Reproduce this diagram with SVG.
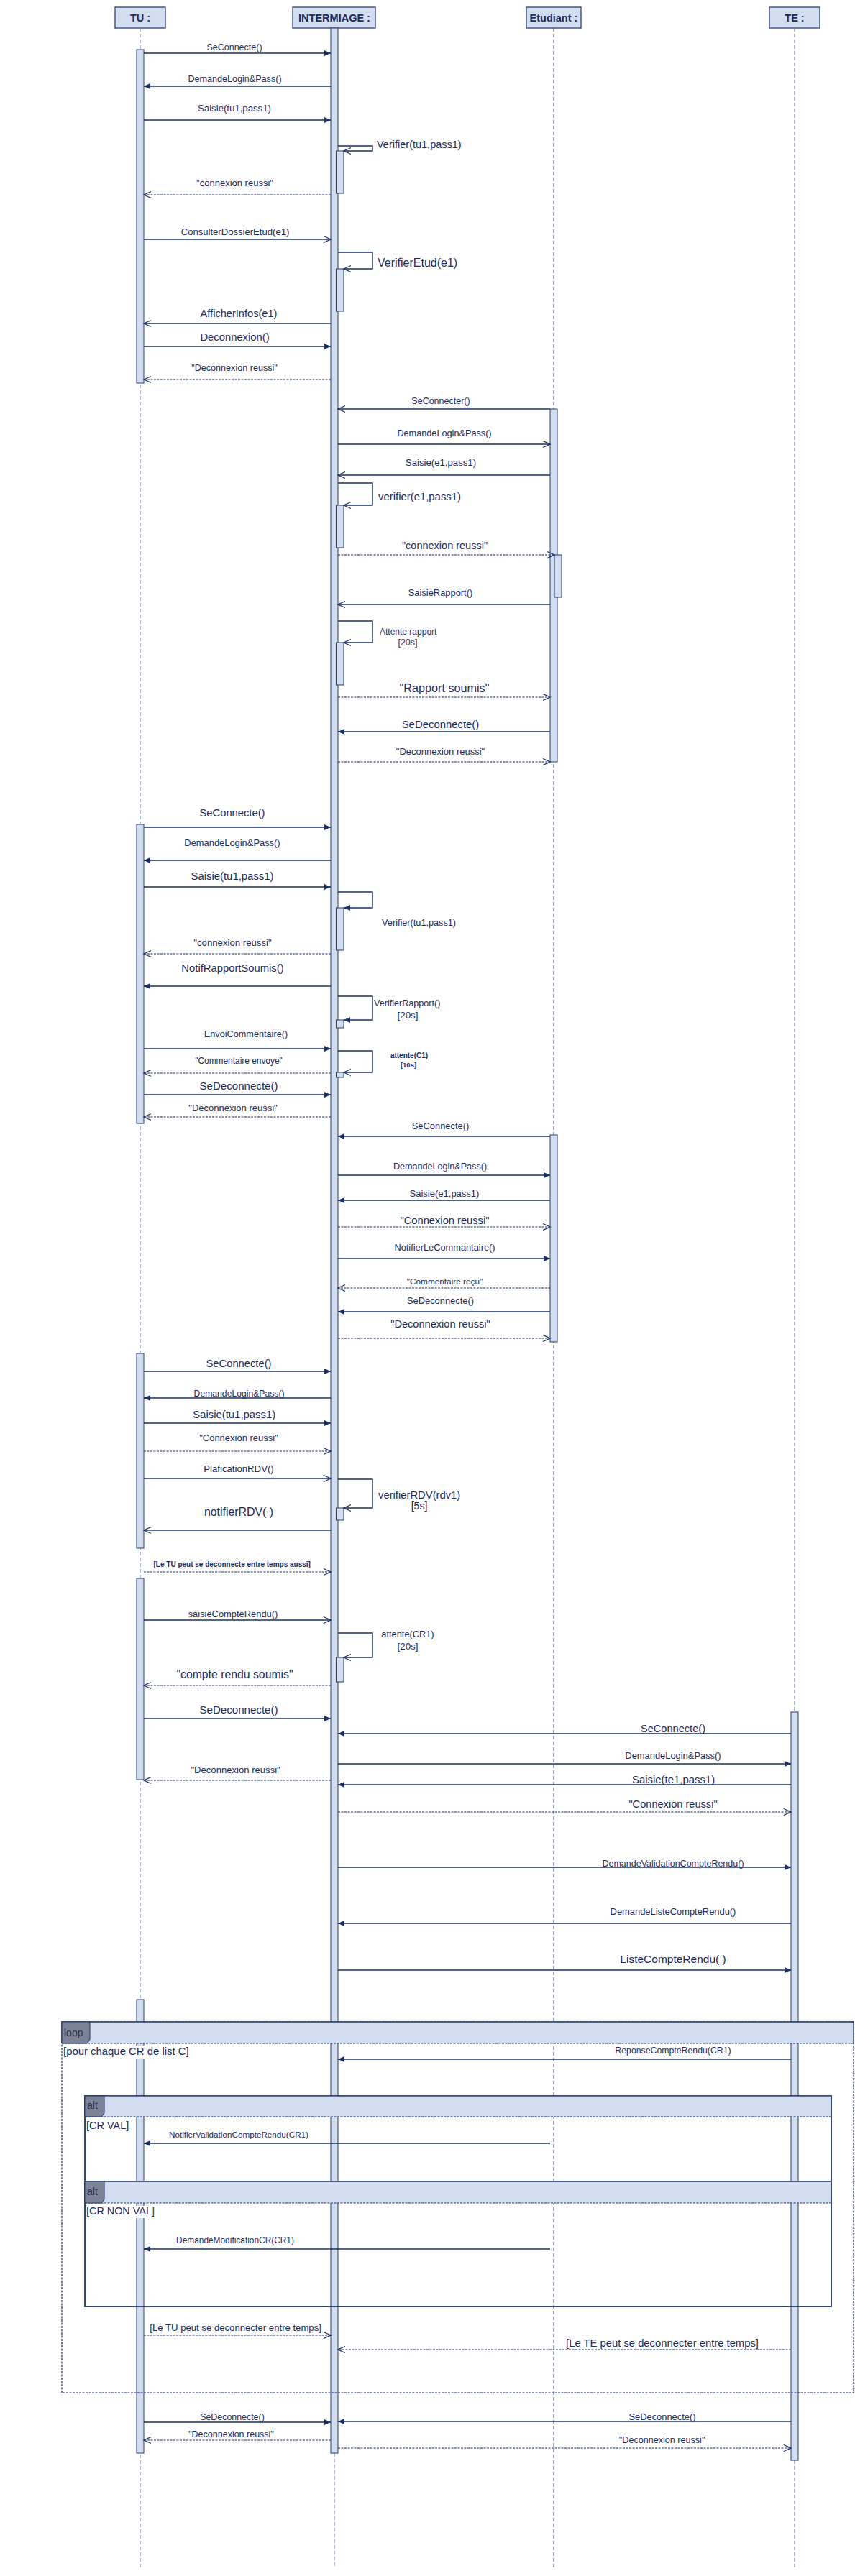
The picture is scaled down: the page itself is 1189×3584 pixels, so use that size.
<svg xmlns="http://www.w3.org/2000/svg" width="1189" height="3584" viewBox="0 0 1189 3584">
<style>
text{font-family:"Liberation Sans",Arial,sans-serif;fill:#1b2b5c;text-anchor:middle;font-size:13px}
.l{text-anchor:start}
.h{font-weight:bold;font-size:14.5px}
.b{font-weight:bold}
.hd{fill:#d3ddf0;stroke:#2b4274;stroke-width:1.3}
.ll{stroke:#5d78ae;stroke-width:1;stroke-dasharray:5 3;fill:none}
.lle{stroke:#3c5083;stroke-width:1;stroke-dasharray:5 3;fill:none}
.act{fill:#d3ddf0;stroke:#263d70;stroke-width:1}
.m{stroke:#1a3062;stroke-width:1.4;fill:none}
.d{stroke:#1a3062;stroke-width:1.2;fill:none;stroke-dasharray:3 1.5}
.f{marker-end:url(#fa)}
.o{marker-end:url(#oa)}
.band{fill:#d3ddf0;stroke:none}
.bs{fill:none;stroke:#1f3566;stroke-width:1.3}
.bd{fill:none;stroke:#1f3566;stroke-width:1.2;stroke-dasharray:3 1.5}
.tag{fill:#7d8397;stroke:#1f3566;stroke-width:1}
.wb{fill:#ffffff}
</style>
<defs>
<marker id="fa" viewBox="0 0 10 10" refX="10" refY="5" markerWidth="9" markerHeight="9" markerUnits="userSpaceOnUse" orient="auto" overflow="visible"><path d="M0,0.5 L10,5 L0,9.5 z" fill="#1a3062"/></marker>
<marker id="oa" viewBox="0 0 10 10" refX="10" refY="5" markerWidth="10" markerHeight="10" markerUnits="userSpaceOnUse" orient="auto" overflow="visible"><path d="M0,0.5 L10,5 L0,9.5" fill="none" stroke="#1a3062" stroke-width="1.3"/></marker>
</defs>
<rect x="0" y="0" width="1189" height="3584" fill="#ffffff"/>

<g id="TU">
<rect class="hd" x="160" y="10" width="70" height="29"/>
<text class="h" x="195" y="30">TU :</text>
<path class="ll" d="M195,39V3573"/>
<rect class="act" x="190" y="69" width="10" height="464"/>
<rect class="act" x="190" y="1147" width="10" height="416"/>
<rect class="act" x="190" y="1883" width="10" height="271"/>
<rect class="act" x="190" y="2196" width="10" height="280"/>
<rect class="act" x="190" y="2782" width="10" height="631"/>
</g>

<g id="INTERMIAGE">
<rect class="hd" x="407" y="10" width="115" height="29"/>
<text class="h" x="465" y="30">INTERMIAGE :</text>
<path class="ll" d="M465,3413V3573"/>
<rect class="act" x="460" y="39" width="10" height="3374"/>
<rect class="act" x="467.5" y="210" width="10.5" height="59"/>
<rect class="act" x="467.5" y="374" width="10.5" height="59"/>
<rect class="act" x="467.5" y="703" width="10.5" height="59"/>
<rect class="act" x="467.5" y="894" width="10.5" height="59"/>
<rect class="act" x="467.5" y="1263" width="10.5" height="59"/>
<rect class="act" x="467.5" y="1419" width="10.5" height="11"/>
<rect class="act" x="467.5" y="1492" width="10.5" height="7"/>
<rect class="act" x="467.5" y="2098" width="10.5" height="17"/>
<rect class="act" x="467.5" y="2306" width="10.5" height="34"/>
</g>

<g id="Etudiant">
<rect class="hd" x="732" y="10" width="76" height="29"/>
<text class="h" x="770" y="30">Etudiant :</text>
<path class="lle" d="M770,39V3573"/>
<rect class="act" x="765" y="569" width="10" height="491"/>
<rect class="act" x="771" y="772" width="10" height="59"/>
<rect class="act" x="765" y="1579" width="10" height="288"/>
</g>

<g id="TE">
<rect class="hd" x="1070" y="10" width="70" height="29"/>
<text class="h" x="1105" y="30">TE :</text>
<path class="ll" d="M1105,39V3573"/>
<rect class="act" x="1100" y="2382" width="10" height="1041"/>
</g>

<g id="frames">
<rect class="bd" x="86" y="2813" width="1101" height="516"/>
<rect class="band" x="86" y="2813" width="1101" height="30"/>
<path class="bs" d="M86,2843V2813H1187V2843"/>
<path class="bd" d="M86,2843H1187"/>
<path class="tag" d="M86,2813H125V2838L121,2843H86z"/>
<text class="l" x="89" y="2833" style="font-size:14px;fill:#2a3150">loop</text>
<rect class="wb" x="87" y="2846" width="176" height="18"/>
<text class="l" x="88" y="2859" style="font-size:14.9px">[pour chaque CR de list C]</text>

<rect class="bs" x="118" y="2916" width="1038" height="293" style="stroke-width:1.8"/>
<rect class="band" x="118.7" y="2916.7" width="1036.6" height="28.3"/>
<path class="bd" d="M118,2945H1156"/>
<path class="tag" d="M118,2916H145V2940L141,2945H118z"/>
<text class="l" x="121" y="2934" style="font-size:14px;fill:#2a3150">alt</text>
<rect class="wb" x="119" y="2950" width="62" height="17"/>
<text class="l" x="120" y="2962" style="font-size:14.5px">[CR VAL]</text>

<rect class="band" x="118.7" y="3035" width="1036.6" height="30"/>
<path class="bs" d="M118,3035H1156"/>
<path class="bd" d="M118,3065H1156"/>
<path class="tag" d="M118,3035H145V3060L141,3065H118z"/>
<text class="l" x="121" y="3054" style="font-size:14px;fill:#2a3150">alt</text>
<rect class="wb" x="119" y="3069" width="98" height="17"/>
<text class="l" x="120" y="3081" style="font-size:14.4px">[CR NON VAL]</text>
</g>

<g id="connectors">
<path class="m f" d="M200,74H460"/><text x="326" y="70" style="font-size:12.5px">SeConnecte()</text>
<path class="m f" d="M460,120H200"/><text x="326.5" y="114" style="font-size:12.6px">DemandeLogin&amp;Pass()</text>
<path class="m f" d="M200,167H460"/><text x="326" y="155" style="font-size:13.2px">Saisie(tu1,pass1)</text>
<path class="m o" d="M470,203H518V210H478"/><text class="l" x="524" y="206" style="font-size:14.5px">Verifier(tu1,pass1)</text>
<path class="d o" d="M460,271H200"/><text x="326.5" y="259" style="font-size:13px">"connexion reussi"</text>
<path class="m o" d="M200,333H460"/><text x="327" y="327" style="font-size:13.1px">ConsulterDossierEtud(e1)</text>
<path class="m o" d="M470,351H518V374H478"/><text class="l" x="525" y="371" style="font-size:16px">VerifierEtud(e1)</text>
<path class="m o" d="M460,450H200"/><text x="332" y="441" style="font-size:14.6px">AfficherInfos(e1)</text>
<path class="m f" d="M200,482H460"/><text x="326.5" y="474" style="font-size:14.8px">Deconnexion()</text>
<path class="d o" d="M460,528H200"/><text x="326" y="516" style="font-size:12.6px">"Deconnexion reussi"</text>
<path class="m o" d="M765,569H470"/><text x="613" y="562" style="font-size:12.5px">SeConnecter()</text>
<path class="m o" d="M470,618H765"/><text x="618" y="607" style="font-size:12.7px">DemandeLogin&amp;Pass()</text>
<path class="m o" d="M765,661H470"/><text x="613" y="648" style="font-size:13.2px">Saisie(e1,pass1)</text>
<path class="m o" d="M470,672H518V703H478"/><text class="l" x="526" y="696" style="font-size:14.9px">verifier(e1,pass1)</text>
<path class="d o" d="M470,772H771"/><text x="618.5" y="764" style="font-size:14.5px">"connexion reussi"</text>
<path class="m o" d="M765,841H470"/><text x="612.5" y="829" style="font-size:12.9px">SaisieRapport()</text>
<path class="m o" d="M470,864H518V894H478"/><text class="l" x="528" y="883" style="font-size:12px">Attente rapport</text><text x="567" y="898" style="font-size:12.5px">[20s]</text>
<path class="d o" d="M470,970H765"/><text x="618" y="963" style="font-size:16.2px">"Rapport soumis"</text>
<path class="m f" d="M765,1018H470"/><text x="612.5" y="1013" style="font-size:14.9px">SeDeconnecte()</text>
<path class="d o" d="M470,1060H765"/><text x="612.5" y="1050" style="font-size:13px">"Deconnexion reussi"</text>
<path class="m f" d="M200,1151H460"/><text x="323" y="1136" style="font-size:14.75px">SeConnecte()</text>
<path class="m f" d="M460,1197H200"/><text x="323" y="1177" style="font-size:12.9px">DemandeLogin&amp;Pass()</text>
<path class="m f" d="M200,1234H460"/><text x="323" y="1224" style="font-size:14.9px">Saisie(tu1,pass1)</text>
<path class="m f" d="M470,1241H518V1263H478"/><text x="582.6" y="1288" style="font-size:12.7px">Verifier(tu1,pass1)</text>
<path class="d o" d="M460,1327H200"/><text x="323.5" y="1316" style="font-size:13.2px">"connexion reussi"</text>
<path class="m f" d="M460,1372H200"/><text x="323.5" y="1352" style="font-size:14.8px">NotifRapportSoumis()</text>
<path class="m f" d="M470,1386H518V1419H478"/><text class="l" x="520" y="1400" style="font-size:12.6px">VerifierRapport()</text><text x="567" y="1417" style="font-size:13.4px">[20s]</text>
<path class="m f" d="M200,1459H460"/><text x="342" y="1443" style="font-size:12.7px">EnvoiCommentaire()</text>
<path class="m o" d="M470,1462H518V1492H478"/><text class="b" x="569" y="1472" style="font-size:10px">attente(C1)</text><text class="b" x="568" y="1485" style="font-size:9.5px">[10s]</text>
<path class="d o" d="M460,1493H200"/><text x="332" y="1480" style="font-size:11.9px">"Commentaire envoye"</text>
<path class="m f" d="M200,1523H460"/><text x="332" y="1516" style="font-size:15.1px">SeDeconnecte()</text>
<path class="d o" d="M460,1554H200"/><text x="324" y="1546" style="font-size:13px">"Deconnexion reussi"</text>
<path class="m f" d="M765,1581H470"/><text x="612.5" y="1571" style="font-size:12.9px">SeConnecte()</text>
<path class="m f" d="M470,1635H765"/><text x="612" y="1627" style="font-size:12.6px">DemandeLogin&amp;Pass()</text>
<path class="m f" d="M765,1670H470"/><text x="618" y="1665" style="font-size:13px">Saisie(e1,pass1)</text>
<path class="d o" d="M470,1707H765"/><text x="618.5" y="1703" style="font-size:14.7px">"Connexion reussi"</text>
<path class="m f" d="M470,1751H765"/><text x="618.5" y="1740" style="font-size:12.8px">NotifierLeCommantaire()</text>
<path class="d o" d="M765,1792H470"/><text x="618.5" y="1787" style="font-size:11.8px">"Commentaire reçu"</text>
<path class="m f" d="M765,1825H470"/><text x="612.5" y="1814" style="font-size:12.9px">SeDeconnecte()</text>
<path class="d o" d="M470,1862H765"/><text x="612.5" y="1847" style="font-size:14.6px">"Deconnexion reussi"</text>
<path class="m f" d="M200,1908H460"/><text x="332" y="1902" style="font-size:14.75px">SeConnecte()</text>
<path class="m f" d="M460,1945H200"/><text x="332.6" y="1943" style="font-size:12.2px">DemandeLogin&amp;Pass()</text>
<path class="m f" d="M200,1980H460"/><text x="325.7" y="1973" style="font-size:14.9px">Saisie(tu1,pass1)</text>
<path class="d o" d="M200,2019H460"/><text x="332" y="2005" style="font-size:13px">"Connexion reussi"</text>
<path class="m o" d="M200,2057H460"/><text x="332" y="2048" style="font-size:13.2px">PlaficationRDV()</text>
<path class="m o" d="M470,2058H518V2098H478"/><text class="l" x="526" y="2085" style="font-size:14.8px">verifierRDV(rdv1)</text><text x="583" y="2100" style="font-size:14px">[5s]</text>
<path class="m o" d="M460,2129H200"/><text x="332" y="2109" style="font-size:15.9px">notifierRDV( )</text>
<path class="d o" d="M200,2187H460"/><text class="b" x="322.7" y="2180" style="font-size:10px">[Le TU peut se deconnecte entre temps aussi]</text>
<path class="m o" d="M200,2254H460"/><text x="324" y="2250" style="font-size:12.9px">saisieCompteRendu()</text>
<path class="m o" d="M470,2272H518V2306H478"/><text x="567" y="2278" style="font-size:12.8px">attente(CR1)</text><text x="567" y="2295" style="font-size:13.4px">[20s]</text>
<path class="d o" d="M460,2345H200"/><text x="326.5" y="2335" style="font-size:15.8px">"compte rendu soumis"</text>
<path class="m f" d="M200,2391H460"/><text x="332" y="2384" style="font-size:15.1px">SeDeconnecte()</text>
<path class="m f" d="M1100,2412H470"/><text x="936" y="2410" style="font-size:14.6px">SeConnecte()</text>
<path class="m f" d="M470,2454H1100"/><text x="936" y="2447" style="font-size:12.9px">DemandeLogin&amp;Pass()</text>
<path class="d o" d="M460,2477H200"/><text x="327.6" y="2467" style="font-size:13.1px">"Deconnexion reussi"</text>
<path class="m f" d="M1100,2483H470"/><text x="936.6" y="2481" style="font-size:14.9px">Saisie(te1,pass1)</text>
<path class="d o" d="M470,2521H1100"/><text x="936" y="2515" style="font-size:14.6px">"Connexion reussi"</text>
<path class="m f" d="M470,2598H1100"/><text x="936" y="2597" style="font-size:12.5px">DemandeValidationCompteRendu()</text>
<path class="m f" d="M1100,2676H470"/><text x="936" y="2664" style="font-size:12.9px">DemandeListeCompteRendu()</text>
<path class="m f" d="M470,2741H1100"/><text x="936" y="2731" style="font-size:15.5px">ListeCompteRendu( )</text>
<path class="m f" d="M1100,2865H470"/><text x="936" y="2857" style="font-size:12.3px">ReponseCompteRendu(CR1)</text>
<path class="m f" d="M765,2982H200"/><text x="332" y="2974" style="font-size:11.7px">NotifierValidationCompteRendu(CR1)</text>
<path class="m f" d="M765,3129H200"/><text x="327" y="3121" style="font-size:11.9px">DemandeModificationCR(CR1)</text>
<path class="d o" d="M200,3249H460"/><text x="327.6" y="3243" style="font-size:13.15px">[Le TU peut se deconnecter entre temps]</text>
<path class="d o" d="M1100,3269H470"/><text x="921" y="3265" style="font-size:14.8px">[Le TE peut se deconnecter entre temps]</text>
<path class="m f" d="M200,3370H460"/><text x="323" y="3367" style="font-size:12.4px">SeDeconnecte()</text>
<path class="m f" d="M1100,3369H470"/><text x="921" y="3367" style="font-size:12.9px">SeDeconnecte()</text>
<path class="d o" d="M460,3395H200"/><text x="321.5" y="3391" style="font-size:12.5px">"Deconnexion reussi"</text>
<path class="d o" d="M470,3406H1100"/><text x="920.6" y="3399" style="font-size:12.6px">"Deconnexion reussi"</text>
</g>
</svg>
